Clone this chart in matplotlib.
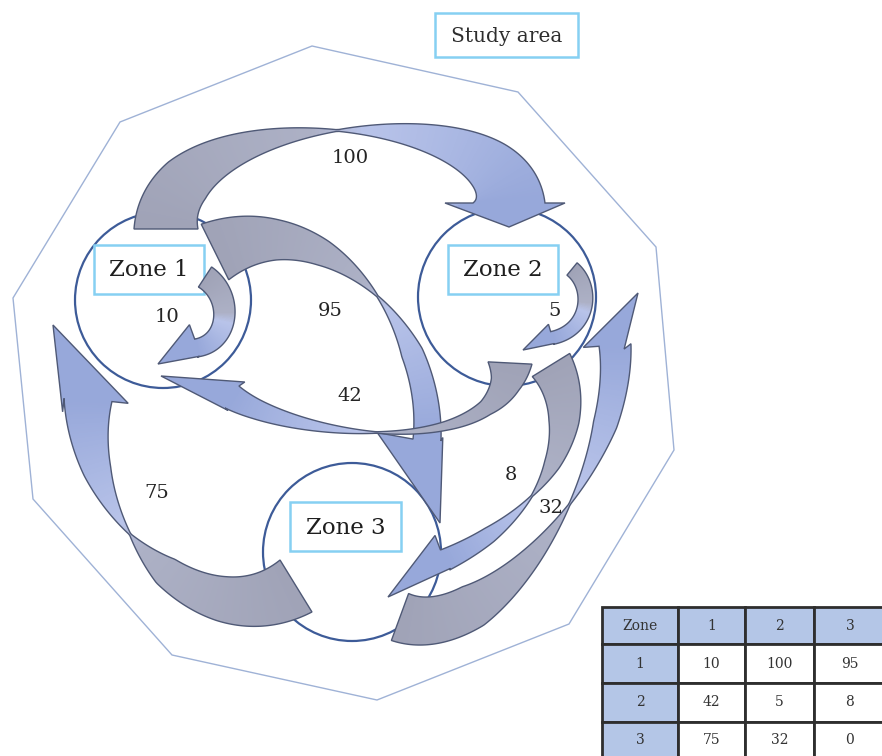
import numpy as np
import matplotlib
matplotlib.use('Agg')
import matplotlib.pyplot as plt
from matplotlib.patches import Polygon, Circle, Rectangle
from matplotlib.colors import LinearSegmentedColormap

# ---------------- data ----------------
zones = ['1', '2', '3']
zone_names = ['Zone 1', 'Zone 2', 'Zone 3']
flows_from_1 = [10, 100, 95]
flows_from_2 = [42, 5, 8]
flows_from_3 = [75, 32, 0]
flow_matrix = [flows_from_1, flows_from_2, flows_from_3]
title_label = 'Study area'
table_corner = 'Zone'

# ---------------- layout (pixel space) ----------------
W, H = 882, 756
fig = plt.figure(figsize=(W / 100, H / 100), dpi=100)
ax = fig.add_axes([0, 0, 1, 1])
ax.set_xlim(0, W)
ax.set_ylim(H, 0)
ax.axis('off')

SERIF = 'DejaVu Serif'
EDGE = '#4f5976'
study_poly = [(312, 46), (518, 92), (656, 247), (674, 450), (569, 624), (377, 700),
              (172, 655), (33, 499), (13, 298), (120, 122)]
zone_circles = [((163, 300), 88), ((507, 297), 89), ((352, 552), 89)]
zone_boxes = [(94, 245, 110, 49), (448, 245, 110, 49), (290, 502, 111, 49)]
study_box = (435, 13, 143, 44)

# centreline (cubic Bezier), width profile and head geometry of each flow arrow
arrow_layout = {
    (0, 1): dict(P=[(166, 229), (166, 102), (509, 102), (509, 203)], ts=[0, .15, .5, .85, 1],
                 ws=[64, 52, 1.5, 52, 72],
                 tip=(509, 227), hl=56, hr=64, sbl=0, sbr=0, tw=.5, label=(350, 158)),
    (0, 0): dict(P=[(205, 277), (234, 296), (230, 343), (196, 348)], ts=[0, 1], ws=[24, 18],
                 tip=(158, 364), hl=9, hr=24, sbl=0, sbr=3, tw=.5, label=(167, 317)),
    (1, 1): dict(P=[(572, 269), (594, 287), (590, 330), (552, 338)], ts=[0, 1], ws=[16, 13],
                 tip=(523, 350), hl=6, hr=14, sbl=0, sbr=2, tw=.5, label=(555, 311)),
    (0, 2): dict(P=[(215, 252), (320, 200), (435, 320), (427, 440)], ts=[0, .2, .35, .56, .75, 1],
                 ws=[62, 40, 26, 1.5, 22, 28], tip=(440, 523), hl=16, hr=48, sbl=0, sbr=15,
                 tw=.56, label=(330, 311)),
    (1, 0): dict(P=[(510, 363), (505, 460), (300, 440), (232, 397)],
                 ts=[0, .08, .2, .35, .55, .75, .9, 1], ws=[44, 30, 16, 9, 1.5, 12, 20, 26],
                 tip=(161, 376), hl=14, hr=18, sbl=0, sbr=8, tw=.55, label=(350, 396)),
    (1, 2): dict(P=[(551, 365), (585, 420), (555, 510), (445, 560)], ts=[0, .3, .5, .65, .85, 1],
                 ws=[44, 30, 16, 1.5, 16, 22], tip=(388, 597), hl=10, hr=26, sbl=0, sbr=5,
                 tw=.65, label=(511, 475)),
    (2, 1): dict(P=[(400, 617), (490, 650), (625, 470), (615, 345)], ts=[0, .25, .45, .6, .8, 1],
                 ws=[50, 44, 20, 1.5, 24, 32], tip=(638, 293), hl=28, hr=10, sbl=15, sbr=0,
                 tw=.6, label=(551, 508)),
    (2, 0): dict(P=[(296, 586), (200, 645), (80, 520), (88, 400)], ts=[0, .25, .45, .6, .8, 1],
                 ws=[61, 45, 30, 1.5, 28, 48], tip=(53, 325), hl=28, hr=35, sbl=0, sbr=20,
                 tw=.6, label=(157, 493)),
}
draw_order = [(2, 0), (0, 0), (1, 1), (0, 1), (0, 2), (2, 1), (1, 2), (1, 0)]

cmap = LinearSegmentedColormap.from_list(
    'flow', [(0, '#a0a3b7'), (0.45, '#adb1c6'), (0.55, '#b9c4ea'), (1, '#97a8da')])

# ---------------- background shapes ----------------
ax.add_patch(Polygon(study_poly, closed=True, facecolor='white', edgecolor='#9fb2d6', lw=1.0, zorder=1))
for (c, r) in zone_circles:
    ax.add_patch(Circle(c, r, facecolor='white', edgecolor='#3d5b98', lw=1.6, zorder=2))
for (x, y, w, h), name in zip(zone_boxes, zone_names):
    ax.add_patch(Rectangle((x, y), w, h, facecolor='white', edgecolor='#86d0f2', lw=1.8, zorder=2.5))
    ax.text(x + w / 2, y + h / 2 + 1, name, ha='center', va='center', fontsize=16.5,
            family=SERIF, color='#1e1e1e', zorder=2.6)
x, y, w, h = study_box
ax.add_patch(Rectangle((x, y), w, h, facecolor='white', edgecolor='#86d0f2', lw=1.8, zorder=2.5))
ax.text(x + w / 2, y + h / 2 + 1, title_label, ha='center', va='center', fontsize=14.5,
        family=SERIF, color='#2e2e2e', zorder=2.6)


def draw_arrow(spec, z):
    P = np.array(spec['P'], float)
    t = np.linspace(0, 1, 160)
    mt = 1 - t
    C = ((mt ** 3)[:, None] * P[0] + (3 * mt ** 2 * t)[:, None] * P[1]
         + (3 * mt * t ** 2)[:, None] * P[2] + (t ** 3)[:, None] * P[3])
    D = ((3 * mt ** 2)[:, None] * (P[1] - P[0]) + (6 * mt * t)[:, None] * (P[2] - P[1])
         + (3 * t ** 2)[:, None] * (P[3] - P[2]))
    T = D / np.linalg.norm(D, axis=1)[:, None]
    N = np.stack([T[:, 1], -T[:, 0]], axis=1)
    w = np.interp(t, spec['ts'], spec['ws']) / 2
    L = C + N * w[:, None]
    R = C - N * w[:, None]
    P3 = C[-1]
    tip = np.array(spec['tip'], float)
    d = (tip - P3) / np.linalg.norm(tip - P3)
    nh = np.array([d[1], -d[0]])
    bl = P3 + nh * spec['hl'] - d * spec['sbl']
    br = P3 - nh * spec['hr'] - d * spec['sbr']
    pts = np.vstack([L, bl, tip, br, R[::-1]])

    # gradient following the path
    x0, y0 = np.floor(pts.min(0)) - 2
    x1, y1 = np.ceil(pts.max(0)) + 2
    gx = np.arange(x0, x1 + 1, 1.0)
    gy = np.arange(y0, y1 + 1, 1.0)
    XX, YY = np.meshgrid(gx, gy)
    G = np.stack([XX.ravel(), YY.ravel()], 1)
    hs = np.linspace(0, 1, 20)[1:]
    S = np.vstack([C, P3 + (tip - P3) * hs[:, None]])
    st = np.concatenate([t, np.ones(len(hs))])
    idx = np.empty(len(G), int)
    step = 20000
    for i in range(0, len(G), step):
        g = G[i:i + step]
        dd = ((g[:, None, :] - S[None, :, :]) ** 2).sum(-1)
        idx[i:i + step] = dd.argmin(1)
    tv = st[idx]
    tw = spec['tw']
    v = np.where(tv < tw, 0.5 * tv / tw, 0.5 + 0.5 * (tv - tw) / (1 - tw))
    img = cmap(v.reshape(XX.shape))
    im = ax.imshow(img, extent=(gx[0] - .5, gx[-1] + .5, gy[0] - .5, gy[-1] + .5), origin='lower',
                   interpolation='bilinear', zorder=z, aspect='auto')
    clip = Polygon(pts, closed=True, facecolor='none', edgecolor='none')
    ax.add_patch(clip)
    im.set_clip_path(clip)
    ax.add_patch(Polygon(pts, closed=True, facecolor='none', edgecolor=EDGE, lw=1.0,
                         joinstyle='miter', zorder=z + 0.1))


for k, key in enumerate(draw_order):
    draw_arrow(arrow_layout[key], 3 + k * 0.5)

# flow labels from the matrix
for (i, j), spec in arrow_layout.items():
    lx, ly = spec['label']
    ax.text(lx, ly, str(flow_matrix[i][j]), ha='center', va='center', fontsize=14,
            family=SERIF, color='#242424', zorder=20)

# ---------------- OD table ----------------
col_x = [602, 678, 745, 814, 886]
row_y = [607, 644, 683, 722, 762]
header = [table_corner] + zones
rows = [[z] + [str(v) for v in vals] for z, vals in zip(zones, flow_matrix)]
cells = [header] + rows
for r in range(4):
    for c in range(4):
        fill = '#b4c6e7' if (r == 0 or c == 0) else 'white'
        ax.add_patch(Rectangle((col_x[c], row_y[r]), col_x[c + 1] - col_x[c], row_y[r + 1] - row_y[r],
                               facecolor=fill, edgecolor='#2e2e2e', lw=2.0, zorder=30))
        cy = (row_y[r] + row_y[r + 1]) / 2 if r < 3 else (row_y[r] + 756) / 2 + 1
        ax.text((col_x[c] + col_x[c + 1]) / 2, cy, cells[r][c], ha='center', va='center',
                fontsize=10, family=SERIF, color='#333333', zorder=31)

ax.set_xlim(0, W)
ax.set_ylim(H, 0)
fig.savefig('out.png', dpi=100)
